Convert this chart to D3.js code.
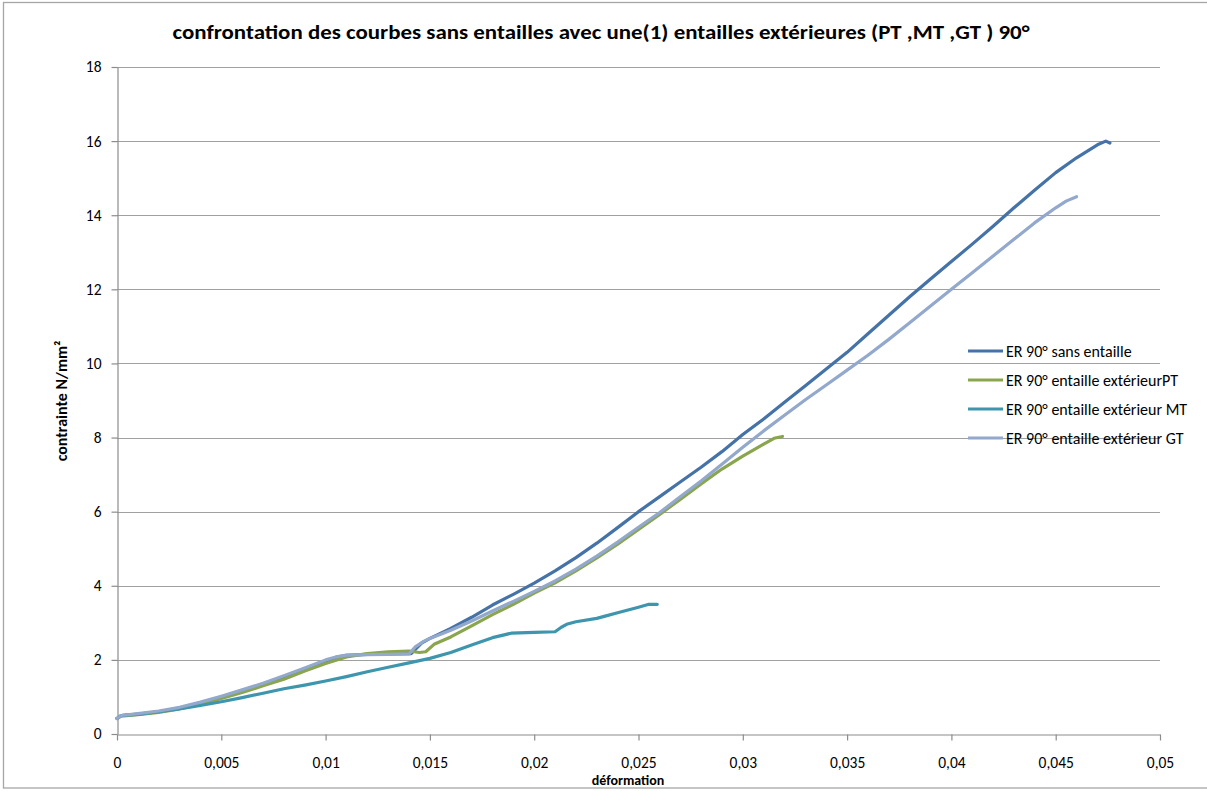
<!DOCTYPE html>
<html>
<head>
<meta charset="utf-8">
<script src="https://cdn.jsdelivr.net/npm/d3@7"></script>
<style>
  html, body { margin: 0; padding: 0; background: #fff; }
  svg { display: block; font-family: Carlito, Calibri, Lato, "Open Sans", sans-serif; }
</style>
</head>
<body>
<svg id="chart" width="1207" height="791"></svg>
<script>
// Stress–strain curves: [déformation, contrainte N/mm²]
const sansEntaille = [[0,0.42],[0.0002,0.5],[0.001,0.54],[0.002,0.6],[0.003,0.7],[0.004,0.84],[0.005,1.0],[0.006,1.16],[0.007,1.33],[0.008,1.52],[0.009,1.74],[0.010,1.95],[0.0105,2.07],[0.011,2.12],[0.012,2.15],[0.013,2.16],[0.0141,2.17],[0.0146,2.45],[0.015,2.58],[0.016,2.85],[0.017,3.15],[0.018,3.48],[0.019,3.77],[0.020,4.07],[0.021,4.4],[0.022,4.76],[0.023,5.15],[0.024,5.57],[0.025,6.0],[0.026,6.4],[0.027,6.8],[0.028,7.2],[0.029,7.62],[0.030,8.08],[0.031,8.5],[0.032,8.95],[0.033,9.4],[0.034,9.85],[0.035,10.3],[0.036,10.8],[0.037,11.3],[0.038,11.8],[0.039,12.28],[0.040,12.75],[0.041,13.22],[0.042,13.7],[0.043,14.2],[0.044,14.68],[0.045,15.15],[0.046,15.55],[0.047,15.9],[0.0474,16.0],[0.0476,15.95]];

const entaillePT = [[0,0.42],[0.0002,0.48],[0.001,0.52],[0.002,0.58],[0.003,0.68],[0.004,0.8],[0.005,0.96],[0.006,1.12],[0.007,1.3],[0.008,1.48],[0.009,1.7],[0.010,1.9],[0.011,2.08],[0.012,2.17],[0.013,2.22],[0.014,2.24],[0.0145,2.2],[0.0148,2.22],[0.0152,2.42],[0.016,2.62],[0.017,2.92],[0.018,3.22],[0.019,3.5],[0.020,3.8],[0.021,4.08],[0.022,4.4],[0.023,4.75],[0.024,5.12],[0.025,5.52],[0.026,5.92],[0.027,6.33],[0.028,6.75],[0.029,7.15],[0.030,7.5],[0.031,7.82],[0.0315,7.98],[0.0319,8.03]];

const entailleMT = [[0,0.42],[0.0002,0.5],[0.001,0.53],[0.002,0.6],[0.003,0.68],[0.004,0.77],[0.005,0.87],[0.006,0.98],[0.007,1.1],[0.008,1.22],[0.009,1.32],[0.010,1.43],[0.011,1.55],[0.012,1.68],[0.013,1.8],[0.014,1.92],[0.015,2.04],[0.016,2.2],[0.017,2.4],[0.018,2.6],[0.0189,2.72],[0.020,2.74],[0.021,2.76],[0.0213,2.88],[0.0216,2.97],[0.022,3.03],[0.023,3.12],[0.0234,3.18],[0.024,3.27],[0.025,3.42],[0.0255,3.5],[0.0259,3.5]];

const entailleGT = [[0,0.42],[0.0002,0.5],[0.001,0.55],[0.002,0.62],[0.003,0.72],[0.004,0.86],[0.005,1.02],[0.006,1.19],[0.007,1.37],[0.008,1.57],[0.009,1.78],[0.010,2.0],[0.0105,2.08],[0.011,2.13],[0.012,2.14],[0.013,2.15],[0.014,2.16],[0.0143,2.35],[0.0147,2.5],[0.015,2.58],[0.016,2.8],[0.017,3.05],[0.018,3.32],[0.019,3.58],[0.020,3.85],[0.021,4.13],[0.022,4.45],[0.023,4.8],[0.024,5.18],[0.025,5.58],[0.026,5.97],[0.027,6.4],[0.028,6.83],[0.029,7.28],[0.030,7.74],[0.031,8.18],[0.032,8.6],[0.033,9.02],[0.034,9.42],[0.035,9.82],[0.036,10.22],[0.037,10.65],[0.038,11.1],[0.039,11.55],[0.040,12.0],[0.041,12.45],[0.042,12.9],[0.043,13.35],[0.044,13.8],[0.045,14.2],[0.0455,14.38],[0.046,14.5]];

const seriesNames = ["ER 90° sans entaille", "ER 90° entaille extérieurPT", "ER 90° entaille extérieur MT", "ER 90° entaille extérieur GT"];
const seriesColors = ["#4572A7", "#89A54E", "#3D96AE", "#92A8CD"];
const xTicks = [0, 0.005, 0.01, 0.015, 0.02, 0.025, 0.03, 0.035, 0.04, 0.045, 0.05];
const yTicks = [0, 2, 4, 6, 8, 10, 12, 14, 16, 18];

const titleText = "confrontation des courbes sans entailles avec une(1) entailles extérieures (PT ,MT ,GT ) 90°";
const xTitle = "déformation";
const yTitle = "contrainte N/mm²";

const svg = d3.select("#chart");
const plotLeft = 117, plotRight = 1160, plotTop = 67, plotBottom = 734;
const labelFont = "Carlito, Calibri, Lato, sans-serif";

const x = d3.scaleLinear().domain([0, 0.05]).range([plotLeft, plotRight]);
const y = d3.scaleLinear().domain([0, 18]).range([plotBottom, plotTop]);

// outer frame
svg.append("rect")
  .attr("x", 3.5).attr("y", 2.5).attr("width", 1215).attr("height", 785.5)
  .attr("fill", "none").attr("stroke", "#a6a6a6").attr("stroke-width", 1.3);

// horizontal gridlines
svg.append("g").selectAll("line").data(yTicks.filter(d => d > 0)).join("line")
  .attr("x1", plotLeft).attr("x2", plotRight)
  .attr("y1", d => Math.round(y(d)) + 0.5).attr("y2", d => Math.round(y(d)) + 0.5)
  .attr("stroke", "#a0a0a0").attr("stroke-width", 1.2);

const fmt = d => String(+d.toFixed(3)).replace(".", ",");

// x axis
const gx = svg.append("g").attr("transform", `translate(0,${plotBottom + 0.5})`)
  .call(d3.axisBottom(x).tickValues(xTicks).tickFormat(fmt).tickSize(6).tickPadding(16).tickSizeOuter(0));
gx.select(".domain").attr("stroke", "#8c8c8c").attr("stroke-width", 1.2);
gx.selectAll(".tick line").attr("stroke", "#8c8c8c").attr("stroke-width", 1.2);
gx.selectAll(".tick text").attr("font-size", 15.5).attr("fill", "#000")
  .attr("font-family", labelFont);

// y axis
const gy = svg.append("g").attr("transform", `translate(${plotLeft + 0.5},0)`)
  .call(d3.axisLeft(y).tickValues(yTicks).tickFormat(d => d).tickSize(6).tickPadding(10).tickSizeOuter(0));
gy.select(".domain").attr("stroke", "#8c8c8c").attr("stroke-width", 1.2);
gy.selectAll(".tick line").attr("stroke", "#8c8c8c").attr("stroke-width", 1.2);
gy.selectAll(".tick text").attr("font-size", 15.5).attr("fill", "#000")
  .attr("font-family", labelFont);

// curves
const line = d3.line().x(d => x(d[0])).y(d => y(d[1])).curve(d3.curveLinear);
const allSeries = [sansEntaille, entaillePT, entailleMT, entailleGT];
svg.append("g").selectAll("path").data(allSeries).join("path")
  .attr("d", line)
  .attr("fill", "none")
  .attr("stroke", (d, i) => seriesColors[i])
  .attr("stroke-width", 3.2)
  .attr("stroke-linejoin", "round")
  .attr("stroke-linecap", "round");

// title
svg.append("text")
  .attr("x", 601).attr("y", 39)
  .attr("text-anchor", "middle")
  .attr("font-size", 20).attr("font-weight", "bold")
  .attr("textLength", 857).attr("lengthAdjust", "spacingAndGlyphs")
  .text(titleText);

// axis titles
svg.append("text")
  .attr("x", 628).attr("y", 785)
  .attr("text-anchor", "middle")
  .attr("font-size", 14).attr("font-weight", "bold")
  .text(xTitle);

svg.append("text")
  .attr("transform", `translate(67,401) rotate(-90)`)
  .attr("text-anchor", "middle")
  .attr("font-size", 16).attr("font-weight", "bold")
  .text(yTitle);

// legend (no background: gridlines stay visible under it)
const legend = svg.append("g").selectAll("g").data(seriesNames).join("g")
  .attr("transform", (d, i) => `translate(968,${351 + i * 29})`);
legend.append("line")
  .attr("x1", 0).attr("x2", 35).attr("y1", 0).attr("y2", 0)
  .attr("stroke", (d, i) => seriesColors[i]).attr("stroke-width", 3);
legend.append("text")
  .attr("x", 38).attr("y", 5.5)
  .attr("font-size", 16).attr("fill", "#000")
  .text(d => d);
</script>
</body>
</html>
